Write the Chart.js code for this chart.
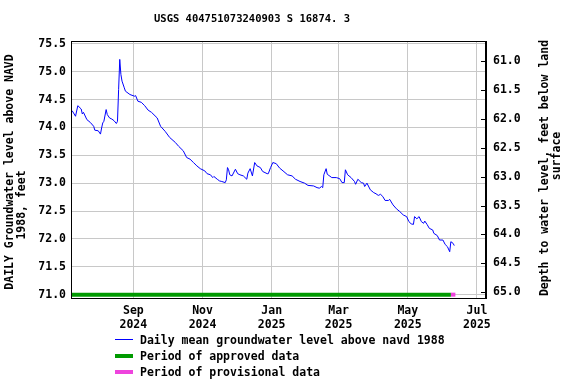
<!DOCTYPE html>
<html>
<head>
<meta charset="utf-8">
<script src="https://cdn.jsdelivr.net/npm/chart.js@4.4.1/dist/chart.umd.min.js"></script>
<style>
  body { margin: 0; background: #fff; }
  #wrap { position: relative; width: 576px; height: 384px; }
  #legend { position: absolute; left: 115px; top: 332px; font: bold 11.5px 'DejaVu Sans Mono', monospace; color: #000; }
  .row { height: 16px; line-height: 16px; white-space: nowrap; }
  .swatch { display: inline-block; width: 18px; height: 0; vertical-align: middle; margin-right: 7px; position: relative; top: -1px; }
</style>
</head>
<body>
<div id="wrap">
  <canvas id="gwCanvas" width="576" height="384"></canvas>
  <div id="legend">
    <div class="row"><span class="swatch" style="border-top:1px solid #0000ff"></span>Daily mean groundwater level above navd 1988</div>
    <div class="row"><span class="swatch" style="border-top:4px solid #009a00"></span>Period of approved data</div>
    <div class="row"><span class="swatch" style="border-top:4px solid #ee44dd"></span>Period of provisional data</div>
  </div>
</div>
<script>
//Data (x = days since 2024-07-01)
let days = [8, 11, 13, 16, 17, 18, 21, 24, 27, 28, 31, 33, 34, 35, 36, 38, 39, 41, 43, 45,
    47, 48, 49, 50, 51, 52, 54, 55, 59, 63, 64, 66, 69, 72, 75, 78, 83, 86, 90, 94,
    99, 102, 106, 109, 112, 115, 118, 121, 125, 127, 130, 132, 133, 136, 138, 140, 143, 144, 145, 146,
    147, 149, 152, 154, 156, 159, 162, 163, 165, 167, 169, 171, 174, 176, 180, 181, 183, 185, 188, 191,
    194, 198, 202, 205, 209, 213, 216, 221, 224, 226, 228, 229, 230, 232, 233, 237, 241, 244, 246, 248,
    249, 251, 254, 257, 258, 260, 263, 265, 266, 268, 271, 274, 276, 278, 280, 282, 284, 287, 288, 291,
    294, 297, 300, 303, 305, 307, 309, 310, 312, 314, 316, 318, 319, 321, 323, 326, 327, 330, 332, 335,
    337, 339, 341, 342, 344, 345];
let levels = [74.30, 74.20, 74.39, 74.33, 74.24, 74.27, 74.14, 74.09, 74.02, 73.95, 73.94, 73.88, 73.99, 74.08, 74.11, 74.32, 74.23, 74.17, 74.15, 74.12,
    74.07, 74.11, 74.68, 75.22, 74.95, 74.83, 74.71, 74.65, 74.59, 74.56, 74.57, 74.47, 74.45, 74.39, 74.31, 74.27, 74.17, 74.02, 73.93, 73.82,
    73.73, 73.66, 73.58, 73.46, 73.43, 73.37, 73.31, 73.26, 73.22, 73.17, 73.15, 73.10, 73.12, 73.07, 73.04, 73.03, 73.01, 73.06, 73.28, 73.24,
    73.15, 73.13, 73.25, 73.17, 73.15, 73.13, 73.07, 73.18, 73.26, 73.13, 73.37, 73.31, 73.28, 73.21, 73.17, 73.17, 73.28, 73.37, 73.35, 73.27,
    73.22, 73.15, 73.13, 73.07, 73.03, 73.00, 72.96, 72.95, 72.92, 72.91, 72.94, 72.92, 73.15, 73.26, 73.16, 73.10, 73.10, 73.08, 73.01, 73.01,
    73.24, 73.15, 73.10, 73.03, 72.98, 73.07, 73.01, 73.00, 72.94, 73.00, 72.88, 72.83, 72.81, 72.78, 72.80, 72.76, 72.69, 72.69, 72.71, 72.61,
    72.54, 72.49, 72.43, 72.40, 72.31, 72.27, 72.26, 72.40, 72.36, 72.40, 72.31, 72.28, 72.32, 72.26, 72.19, 72.16, 72.10, 72.06, 71.98, 71.98,
    71.90, 71.86, 71.77, 71.95, 71.92, 71.88];

//Approval periods [start, end]
let approvedPeriod = [7, 342];
let provisionalPeriod = [342, 346];

//Ticks
let monthTicks = [62, 123, 184, 243, 304, 365];
let monthLabels = [['Sep', '2024'], ['Nov', '2024'], ['Jan', '2025'], ['Mar', '2025'], ['May', '2025'], ['Jul', '2025']];
let levelTicks = [71.0, 71.5, 72.0, 72.5, 73.0, 73.5, 74.0, 74.5, 75.0, 75.5];
let depthTicks = [61.0, 61.5, 62.0, 62.5, 63.0, 63.5, 64.0, 64.5, 65.0];

const FONT = "'DejaVu Sans Mono'";
const GRID = '#c8c8c8';

function tickList(arr) {
    return arr.map(v => ({value: v}));
}

let extras = {
    id: 'extras',
    afterDraw(chart) {
        let ctx = chart.ctx;
        let a = chart.chartArea;
        ctx.save();
        //frame
        ctx.strokeStyle = '#000';
        ctx.lineWidth = 1;
        ctx.strokeRect(Math.round(a.left) + 0.5, Math.round(a.top) + 0.5, Math.round(a.right - a.left) - 1, Math.round(a.bottom - a.top));
        //inside ticks on right axis
        let y2 = chart.scales.y2;
        depthTicks.forEach(v => {
            let py = Math.round(y2.getPixelForValue(v)) + 0.5;
            ctx.beginPath();
            ctx.moveTo(a.right - 5, py);
            ctx.lineTo(a.right, py);
            ctx.stroke();
        });
        //title
        ctx.fillStyle = '#000';
        ctx.textAlign = 'center';
        ctx.textBaseline = 'middle';
        ctx.font = 'bold 10.5px ' + FONT;
        ctx.fillText('USGS 404751073240903 S 16874. 3', 252, 19);
        //axis titles
        ctx.font = 'bold 11.5px ' + FONT;
        let rot = (text, x, y) => {
            ctx.save();
            ctx.translate(x, y);
            ctx.rotate(-Math.PI / 2);
            ctx.fillText(text, 0, 0);
            ctx.restore();
        };
        rot('DAILY Groundwater level above NAVD', 10, 172);
        rot('1988, feet', 22, 205);
        rot('Depth to water level, feet below land', 545, 168);
        rot('surface', 557, 156);
        ctx.restore();
    }
};

let gwChart = new Chart(document.getElementById('gwCanvas').getContext('2d'), {
    type: 'line',
    data: {
        datasets: [{
            label: 'Period of approved data',
            data: approvedPeriod.map(d => ({x: d, y: 71.0})),
            borderColor: '#009a00',
            borderWidth: 4,
            pointRadius: 0
        }, {
            label: 'Period of provisional data',
            data: provisionalPeriod.map(d => ({x: d, y: 71.0})),
            borderColor: '#ee44dd',
            borderWidth: 4,
            pointRadius: 0
        }, {
            label: 'Daily mean groundwater level above navd 1988',
            data: days.map((d, i) => ({x: d, y: levels[i]})),
            borderColor: '#0000ff',
            borderWidth: 1,
            pointRadius: 0,
            tension: 0
        }]
    },
    options: {
        responsive: false,
        animation: false,
        layout: {padding: {top: 41, left: 0, right: 0, bottom: 0}},
        plugins: {
            legend: {display: false},
            tooltip: {enabled: false}
        },
        scales: {
            x: {
                type: 'linear',
                min: 7,
                max: 373,
                afterBuildTicks: s => { s.ticks = tickList(monthTicks); },
                afterFit: s => { s.height = 86; },
                grid: {color: GRID, drawTicks: false},
                border: {color: '#000'},
                ticks: {
                    padding: 6,
                    maxRotation: 0,
                    autoSkip: false,
                    color: '#000',
                    font: {family: FONT, size: 11.5, weight: 'bold'},
                    callback: v => monthLabels[monthTicks.indexOf(v)]
                }
            },
            y: {
                position: 'left',
                min: 70.94,
                max: 75.55,
                afterBuildTicks: s => { s.ticks = tickList(levelTicks); },
                afterFit: s => { s.width = 71; },
                grid: {color: GRID, drawTicks: false},
                border: {color: '#000'},
                ticks: {
                    padding: 5,
                    color: '#000',
                    font: {family: FONT, size: 11.5, weight: 'bold'},
                    callback: v => v.toFixed(1)
                }
            },
            y2: {
                position: 'right',
                reverse: true,
                min: 60.65,
                max: 65.10,
                afterBuildTicks: s => { s.ticks = tickList(depthTicks); },
                afterFit: s => { s.width = 90; },
                grid: {drawOnChartArea: false, drawTicks: false},
                border: {color: '#000'},
                ticks: {
                    padding: 7,
                    color: '#000',
                    font: {family: FONT, size: 11.5, weight: 'bold'},
                    callback: v => v.toFixed(1)
                }
            }
        }
    },
    plugins: [extras]
});
</script>
</body>
</html>
